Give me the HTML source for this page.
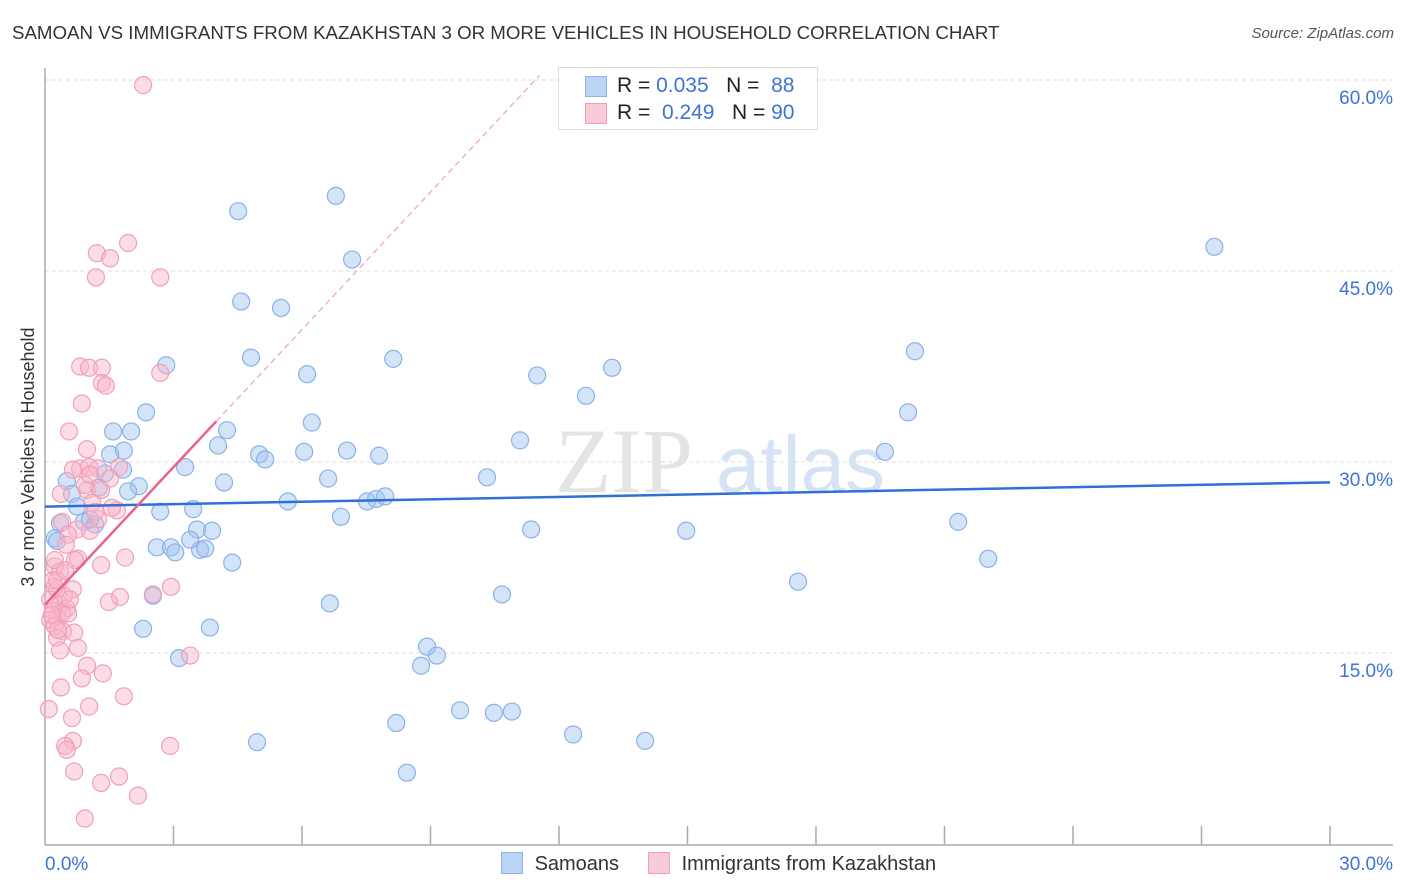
<!DOCTYPE html>
<html><head><meta charset="utf-8">
<style>
body{margin:0;background:#fff;font-family:"Liberation Sans",sans-serif;}
#wrap{position:relative;width:1406px;height:892px;overflow:hidden;}
.t{position:absolute;white-space:nowrap;}
</style></head>
<body>
<div id="wrap">
<div class="t" style="left:12px;top:22px;font-size:18.7px;color:#333;">SAMOAN VS IMMIGRANTS FROM KAZAKHSTAN 3 OR MORE VEHICLES IN HOUSEHOLD CORRELATION CHART</div>
<div class="t" style="right:12px;top:25px;font-size:15px;color:#555;font-style:italic;">Source: ZipAtlas.com</div>
<svg id="chart" width="1406" height="892" style="position:absolute;left:0;top:0"></svg>
</div>
<script>
const xTickLabels=["0.0%","30.0%"];
const yTicks=[15,30,45,60];
const yTickLabels=["15.0%","30.0%","45.0%","60.0%"];
const samoanX=[6.79,4.51,7.17,27.30,4.58,5.51,4.81,8.13,6.12,11.49,13.24,20.31,2.83,12.63,20.15,2.36,6.23,1.59,2.01,4.25,4.04,11.09,1.84,5.00,5.14,6.05,7.05,7.80,19.61,3.27,0.51,1.26,2.19,1.82,1.40,6.61,10.32,4.18,0.63,1.94,5.67,7.52,7.73,7.94,0.75,2.69,3.46,6.91,21.32,0.35,0.91,1.17,3.55,3.90,11.35,14.97,0.23,0.28,2.61,2.94,3.04,3.62,3.74,4.37,22.02,17.58,2.52,6.65,10.67,3.85,2.29,8.92,9.15,8.78,3.13,9.69,10.48,10.90,8.20,12.33,14.01,4.95,8.45,1.52,1.05,3.39];
const samoanY=[50.9,49.7,45.9,46.9,42.6,42.1,38.2,38.1,36.9,36.8,37.4,38.7,37.6,35.2,33.9,33.9,33.1,32.4,32.4,32.5,31.3,31.7,30.9,30.6,30.2,30.8,30.9,30.5,30.8,29.6,28.5,28.0,28.1,29.4,29.1,28.7,28.8,28.4,27.5,27.7,26.9,26.9,27.1,27.3,26.5,26.1,26.3,25.7,25.3,25.2,25.3,25.1,24.7,24.6,24.7,24.6,24.0,23.8,23.3,23.3,22.9,23.1,23.2,22.1,22.4,20.6,19.5,18.9,19.6,17.0,16.9,15.5,14.8,14.0,14.6,10.5,10.3,10.4,9.5,8.6,8.1,8.0,5.6,30.6,25.5,23.9];
const kazX=[2.29,1.94,1.21,1.52,1.19,2.69,0.82,1.03,1.33,2.69,1.33,1.42,0.86,0.56,0.98,0.82,0.65,1.03,1.24,1.73,1.52,0.98,1.31,0.37,1.10,0.40,1.24,0.75,1.05,0.54,1.87,0.77,1.31,0.23,0.35,0.19,0.28,0.65,2.94,0.23,0.44,1.75,1.49,2.52,0.12,0.35,0.51,0.19,0.28,0.40,0.54,0.12,0.23,0.42,0.68,0.28,0.35,0.77,3.39,0.98,1.35,0.86,0.37,1.84,1.03,0.09,0.63,0.65,0.47,0.51,2.92,0.68,1.73,1.31,2.17,0.93,1.68,1.17,0.93,1.56,0.23,0.28,1.05,0.16,0.47,0.58,0.30,0.70,0.49];
const kazY=[59.6,47.2,46.4,46.0,44.5,44.5,37.5,37.4,37.4,37.0,36.2,36.0,34.6,32.4,31.0,29.5,29.4,29.6,29.5,29.6,28.7,27.8,27.8,27.5,26.8,25.3,25.5,24.7,24.6,24.3,22.5,22.4,21.9,21.8,21.4,20.7,20.0,20.0,20.2,20.2,19.5,19.4,19.0,19.6,19.2,18.8,18.5,18.3,17.8,18.1,18.1,17.6,17.1,16.7,16.6,16.2,15.2,15.4,14.8,14.0,13.4,13.0,12.3,11.6,10.8,10.6,9.9,8.1,7.7,7.4,7.7,5.7,5.3,4.8,3.8,2.0,26.2,26.1,28.2,26.4,22.3,20.7,29.0,18.0,21.5,19.2,16.8,22.3,23.5];
const blueTrend=[26.5,28.4];
const pinkTrend=[18.8,3.6];

const NS="http://www.w3.org/2000/svg";
const svg=document.getElementById('chart');
const X=v=>45+v*42.833;
const Y=v=>844-v*12.733;
function mk(tag,attrs,parent){const e=document.createElementNS(NS,tag);for(const k in attrs)e.setAttribute(k,attrs[k]);(parent||svg).appendChild(e);return e;}

yTicks.forEach((t,i)=>{
  const g=mk('line',{x1:45,x2:1393,y1:Y(t),y2:Y(t),stroke:'#ddd','stroke-dasharray':'4,3','stroke-width':1});
  
  
  const l=mk('text',{x:1393,y:Y(t)+24,'text-anchor':'end','font-size':19,fill:'#3d73d6','font-family':'Liberation Sans, sans-serif'});
  l.textContent=yTickLabels[i];
  
  
});
const ax=mk('line',{x1:45,x2:1393,y1:845,y2:845,stroke:'#aaa','stroke-width':1.5});


const ay=mk('line',{x1:45,x2:45,y1:68,y2:845,stroke:'#aaa','stroke-width':1.5});


for(let i=1;i<=10;i++){
  const tk=mk('line',{x1:X(i*3),x2:X(i*3),y1:826,y2:845,stroke:'#aaa','stroke-width':1.5});
  
  
}
[[0,'start',45],[30,'end',1393]].forEach((d,i)=>{
  const l=mk('text',{x:d[2],y:870,'text-anchor':d[1],'font-size':19,fill:'#3d73d6','font-family':'Liberation Sans, sans-serif'});
  l.textContent=xTickLabels[i];
  
  
});
const yt=mk('text',{x:0,y:0,transform:'translate(34,457) rotate(-90)','text-anchor':'middle','font-size':18,fill:'#333','font-family':'Liberation Sans, sans-serif'});
yt.textContent='3 or more Vehicles in Household';


const wm=mk('text',{x:555,y:492,'font-size':92,fill:'#e4e4e4','font-family':'Liberation Serif, serif'});
wm.textContent='ZIP';


const wm2=mk('text',{x:716,y:492,'font-size':80,fill:'#d5e3f5','font-family':'Liberation Sans, sans-serif'});
wm2.textContent='atlas';



samoanX.forEach((v,i)=>{
  const c=mk('circle',{cx:X(v),cy:Y(samoanY[i]),r:8.5,fill:'rgba(160,196,240,0.45)',stroke:'#8ab2e8','stroke-width':1.2});
  
  
});
kazX.forEach((v,i)=>{
  const c=mk('circle',{cx:X(v),cy:Y(kazY[i]),r:8.5,fill:'rgba(248,180,200,0.45)',stroke:'#f0a0b8','stroke-width':1.2});
  
  
});
const bt=mk('line',{x1:X(0),y1:Y(blueTrend[0]),x2:X(30),y2:Y(blueTrend[1]),stroke:'#2f6fd6','stroke-width':2.5});


const pEnd=(60-pinkTrend[0])/pinkTrend[1]+0.1;
const pd=mk('line',{x1:X(4.0),y1:Y(pinkTrend[0]+pinkTrend[1]*4.0),x2:X(pEnd),y2:Y(pinkTrend[0]+pinkTrend[1]*pEnd),stroke:'#f0a0b8','stroke-width':1.2,'stroke-dasharray':'6,4'});


const pt=mk('line',{x1:X(0),y1:Y(pinkTrend[0]),x2:X(4.0),y2:Y(pinkTrend[0]+pinkTrend[1]*4.0),stroke:'#e8638e','stroke-width':2.5});


</script>

<div class="t" style="left:558px;top:67px;width:258px;height:61px;border:1px solid #ddd;background:#fff;font-size:21px;">
  <div style="position:absolute;left:26px;top:8px;width:20px;height:19px;background:#bcd4f6;border:1px solid #8ab2e8;"></div>
  <div class="t" style="left:58px;top:6px;color:#222;">R = <span style="color:#3d73d6">0.035</span>&nbsp;&nbsp;&nbsp;N = &nbsp;<span style="color:#3d73d6">88</span></div>
  <div style="position:absolute;left:26px;top:35px;width:20px;height:19px;background:#f9cad8;border:1px solid #f0a0b8;"></div>
  <div class="t" style="left:58px;top:33px;color:#222;">R = &nbsp;<span style="color:#3d73d6">0.249</span>&nbsp;&nbsp;&nbsp;N = <span style="color:#3d73d6">90</span></div>
</div>

<div class="t" style="left:501px;top:852px;font-size:20px;color:#333;">
  <span style="display:inline-block;width:20px;height:20px;background:#bcd4f6;border:1px solid #8ab2e8;vertical-align:-4px;"></span>
  <span style="margin-left:6px">Samoans</span>
</div>
<div class="t" style="left:648px;top:852px;font-size:20px;color:#333;">
  <span style="display:inline-block;width:20px;height:20px;background:#f9cad8;border:1px solid #f0a0b8;vertical-align:-4px;"></span>
  <span style="margin-left:6px">Immigrants from Kazakhstan</span>
</div>
</body></html>
